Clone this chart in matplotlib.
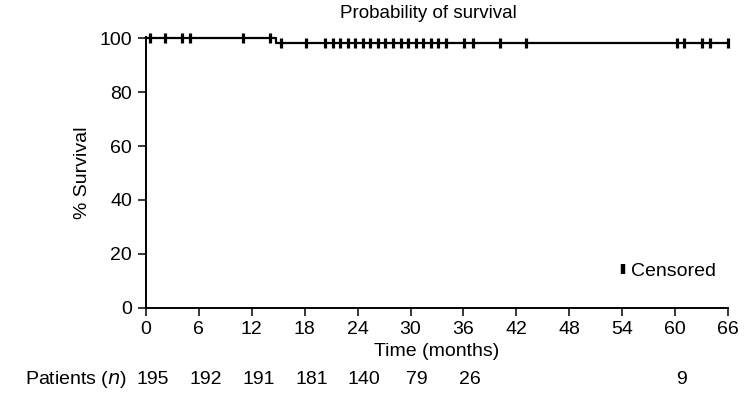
import numpy as np
import matplotlib
matplotlib.use("Agg")
import matplotlib.pyplot as plt
from matplotlib.lines import Line2D
import matplotlib.transforms as mtransforms

plt.rcParams['font.family'] = ['Liberation Sans', 'DejaVu Sans']

# Kaplan-Meier step curve
step_times = [0, 14.7, 66]
step_surv = [100, 98.2, 98.2]

# Censored observation times (months)
censor_times = [0.4, 2.1, 4.1, 5.0, 11.0, 14.1, 15.3, 18.1,
                20.3, 21.2, 22.0, 22.9, 23.7, 24.6, 25.4, 26.3, 27.1, 28.0,
                28.9, 29.7, 30.6, 31.4, 32.3, 33.1, 34.0,
                36.1, 37.1, 40.1, 43.1, 60.2, 61.0, 63.1, 64.0, 66.0]

x_ticks = [0, 6, 12, 18, 24, 30, 36, 42, 48, 54, 60, 66]
y_ticks = [0, 20, 40, 60, 80, 100]

# Patients at risk
risk_times = [0, 6, 12, 18, 24, 30, 36, 60]
risk_counts = [195, 192, 191, 181, 140, 79, 26, 9]

FS = 14

fig = plt.figure(figsize=(7.44, 4.05), dpi=100)
ax = fig.add_axes([146/744, 1 - 307.5/405, (728 - 146)/744, (307.5 - 37)/405])

ax.step(step_times, step_surv, where='post', color='black', lw=1.6, clip_on=False, zorder=3)

idx = np.searchsorted(step_times, censor_times, side='right') - 1
cens_y = np.array(step_surv)[idx]
ax.plot(censor_times, cens_y, linestyle='none', marker='|', markersize=7.5,
        markeredgewidth=2.3, color='black', clip_on=False, zorder=4)

ax.set_xlim(0, 66)
ax.set_ylim(0, 100.5)
ax.set_xticks(x_ticks)
ax.set_yticks(y_ticks)
for s in ['top', 'right']:
    ax.spines[s].set_visible(False)
for s in ['left', 'bottom']:
    ax.spines[s].set_linewidth(1.4)
ax.tick_params(direction='out', length=6, width=1.1, labelsize=FS, pad=4)

ax.set_xlabel('Time (months)', fontsize=FS, labelpad=3)
ax.set_ylabel('% Survival', fontsize=FS, labelpad=6)
ax.set_title('Probability of survival', fontsize=13.5, pad=14, x=0.485)

# Legend
h = Line2D([], [], linestyle='none', marker='|', markersize=6.5, markeredgewidth=3.2, color='black')
ax.legend([h], ['Censored'], loc='lower right', bbox_to_anchor=(1.0, 0.06), frameon=False,
          fontsize=FS, handlelength=0.4, handletextpad=0.25, borderaxespad=0.2)

# Patients at risk row
yfig = 1 - 379/405
fig.text(76/744, yfig, 'Patients ($n$)', ha='center', va='center', fontsize=FS)
blend = mtransforms.blended_transform_factory(ax.transData, fig.transFigure)
for t, c in zip(risk_times, risk_counts):
    ax.text(t + 0.75, yfig, str(c), transform=blend, ha='center', va='center', fontsize=FS)

fig.savefig('out.png', dpi=100)
